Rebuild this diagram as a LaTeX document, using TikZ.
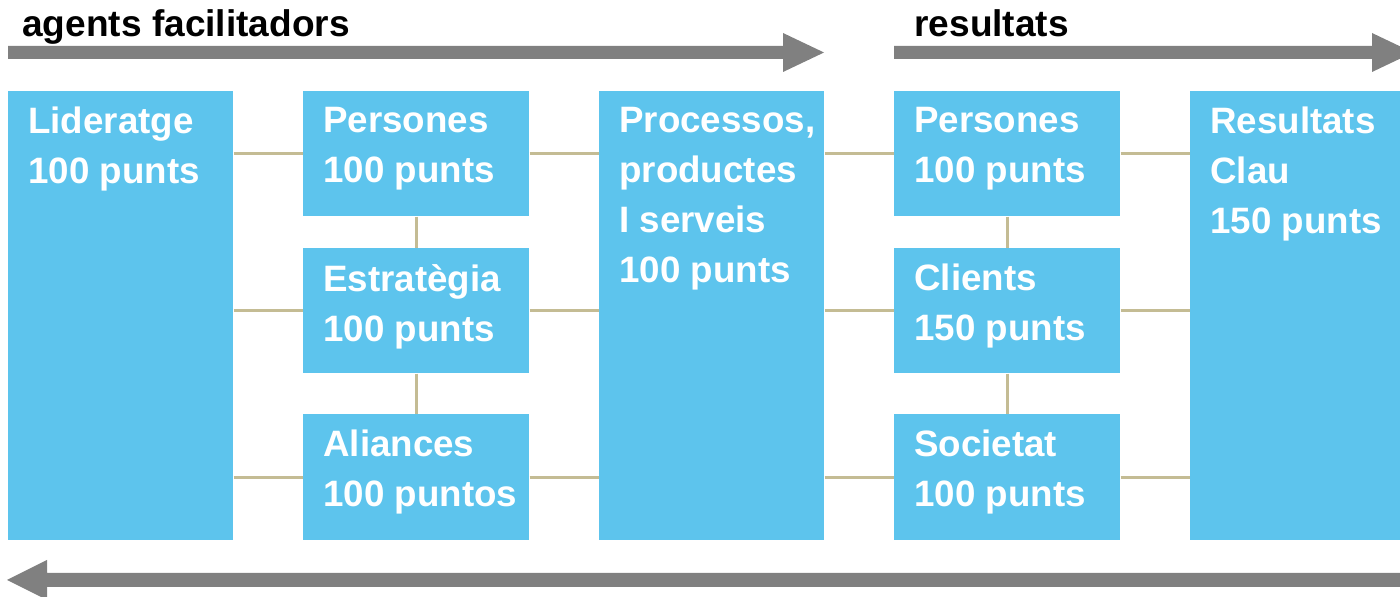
\documentclass[tikz,border=0pt]{standalone}
\usepackage{fontspec}
\setmainfont{Liberation Sans}
\definecolor{boxblue}{RGB}{93,196,237}
\definecolor{arrgray}{RGB}{128,128,128}
\definecolor{tan}{RGB}{196,188,148}
\begin{document}
\begin{tikzpicture}[x=0.02cm,y=-0.02cm,
  blk/.style={fill=boxblue,draw=none,inner sep=0pt,anchor=north west},
  bigblk/.style={blk,minimum width=4.5cm,minimum height=8.98cm},
  smallblk/.style={blk,minimum width=4.52cm,minimum height=2.5cm},
  lbl/.style={anchor=north west,inner sep=0pt,text=white,align=left,
    font=\fontsize{20.9}{28.4}\selectfont\bfseries},
  head/.style={anchor=base west,inner sep=0pt,text=black,
    font=\fontsize{21.1}{24}\selectfont\bfseries},
  conn/.style={draw=tan,line width=1.8pt},
  bigarrow/.style={fill=arrgray,draw=none}]
\useasboundingbox (0,0) rectangle (1400,597);
\clip (0,0) rectangle (1400,597);

% arrows
\fill[bigarrow] (8,46) -- (783,46) -- (783,33) -- (824,52.5) -- (783,72) -- (783,59) -- (8,59) -- cycle;
\fill[bigarrow] (894,46) -- (1372,46) -- (1372,33) -- (1413,52.5) -- (1372,72) -- (1372,59) -- (894,59) -- cycle;
\fill[bigarrow] (1420,573) -- (47,573) -- (47,560) -- (7,580) -- (47,600) -- (47,587) -- (1420,587) -- cycle;

\node[head] (hagents) at (22,37) {agents facilitadors};
\node[head] (hres) at (914,37) {resultats};

% boxes
\node[bigblk] (lid) at (8,91) {};
\node[smallblk] (per1) at (303,91) {};
\node[smallblk] (est) at (303,248) {};
\node[smallblk,minimum height=2.52cm] (ali) at (303,414) {};
\node[bigblk] (proc) at (599,91) {};
\node[smallblk] (per2) at (894,91) {};
\node[smallblk] (cli) at (894,248) {};
\node[smallblk,minimum height=2.52cm] (soc) at (894,414) {};
\node[bigblk] (res) at (1190,91) {};

% connectors
\draw[conn] (lid.east |- per1.west) -- (per1.west);
\draw[conn] (lid.east |- est.west) -- (est.west);
\draw[conn] (lid.east |- ali.west) -- (ali.west);
\draw[conn] (per1.east) -- (proc.west |- per1.east);
\draw[conn] (est.east) -- (proc.west |- est.east);
\draw[conn] (ali.east) -- (proc.west |- ali.east);
\draw[conn] (per1.south) -- (est.north);
\draw[conn] (est.south) -- (ali.north);
\draw[conn] (proc.east |- per2.west) -- (per2.west);
\draw[conn] (proc.east |- cli.west) -- (cli.west);
\draw[conn] (proc.east |- soc.west) -- (soc.west);
\draw[conn] (per2.east) -- (res.west |- per2.east);
\draw[conn] (cli.east) -- (res.west |- cli.east);
\draw[conn] (soc.east) -- (res.west |- soc.east);
\draw[conn] (per2.south) -- (cli.north);
\draw[conn] (cli.south) -- (soc.north);

% labels
\node[lbl] (tlid) at ([xshift=0.4cm,yshift=-0.32cm]lid.north west) {Lideratge\\100 punts};
\node[lbl] (tper1) at ([xshift=0.4cm,yshift=-0.32cm]per1.north west) {Persones\\100 punts};
\node[lbl] (test) at ([xshift=0.4cm,yshift=-0.32cm]est.north west) {Estratègia\\100 punts};
\node[lbl] (tali) at ([xshift=0.4cm,yshift=-0.32cm]ali.north west) {Aliances\\100 puntos};
\node[lbl] (tproc) at ([xshift=0.4cm,yshift=-0.32cm]proc.north west) {Processos,\\productes\\I serveis\\100 punts};
\node[lbl] (tper2) at ([xshift=0.4cm,yshift=-0.32cm]per2.north west) {Persones\\100 punts};
\node[lbl] (tcli) at ([xshift=0.4cm,yshift=-0.32cm]cli.north west) {Clients\\150 punts};
\node[lbl] (tsoc) at ([xshift=0.4cm,yshift=-0.32cm]soc.north west) {Societat\\100 punts};
\node[lbl] (tres) at ([xshift=0.4cm,yshift=-0.32cm]res.north west) {Resultats\\Clau\\150 punts};
\end{tikzpicture}
\end{document}
